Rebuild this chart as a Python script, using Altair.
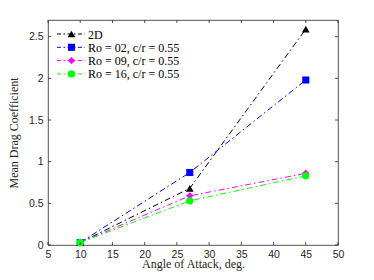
import altair as alt
import pandas as pd

angles = [10, 27, 45]
series_names = ["2D", "Ro = 02, c/r = 0.55", "Ro = 09, c/r = 0.55", "Ro = 16, c/r = 0.55"]
cd_2d = [0.03, 0.68, 2.59]
cd_ro02 = [0.03, 0.87, 1.98]
cd_ro09 = [0.03, 0.59, 0.86]
cd_ro16 = [0.03, 0.53, 0.83]
colors = ["#000000", "#0000ff", "#ff00ff", "#00ff00"]
marker_shapes = ["triangle-up", "square", "diamond", "circle"]
marker_sizes = [60, 50, 55, 55]
x_ticks = [5, 10, 15, 20, 25, 30, 35, 40, 45, 50]
y_ticks = [0, 0.5, 1, 1.5, 2, 2.5]

rows = []
for name, vals in zip(series_names, [cd_2d, cd_ro02, cd_ro09, cd_ro16]):
    for a, v in zip(angles, vals):
        rows.append({"series": name, "angle": a, "cd": v})
df = pd.DataFrame(rows)

W, H = 290, 225
DASH = [6, 3, 1.5, 3]
xs = alt.Scale(domain=[5, 50], nice=False, zero=False)
ys = alt.Scale(domain=[0, 2.7], nice=False)
cscale = alt.Scale(domain=series_names, range=colors)

axis_common = dict(domain=False, ticks=False, grid=False,
                   labelFont="Liberation Sans", labelFontSize=10.5, labelColor="#262626",
                   labelOverlap=False, labelFlush=False,
                   titleFont="Liberation Serif", titleFontSize=12, titleFontWeight="normal",
                   titleColor="#262626")
xaxis = alt.Axis(values=x_ticks, title="Angle of Attack, deg.", labelPadding=4,
                 titleY=22.5, titleBaseline="alphabetic", **axis_common)
yaxis = alt.Axis(values=y_ticks, title="Mean Drag Coefficient", format="~g",
                 labelPadding=5, titlePadding=8, **axis_common)
X = lambda f: alt.X(f, scale=xs, axis=xaxis)
Y = lambda f: alt.Y(f, scale=ys, axis=yaxis)

base = alt.Chart(df)
lines = base.mark_line(strokeWidth=1, strokeDash=DASH).encode(
    x=X("angle:Q"), y=Y("cd:Q"),
    color=alt.Color("series:N", scale=cscale, legend=None),
    detail="series:N",
    order="angle:Q",
)
point_layers = []
for name, col, shp, sz in zip(series_names, colors, marker_shapes, marker_sizes):
    point_layers.append(
        base.transform_filter(alt.datum.series == name)
        .mark_point(filled=True, opacity=1, shape=shp, size=sz, color=col)
        .encode(x=X("angle:Q"), y=Y("cd:Q"))
    )

# legend (inside the plot, top-left), drawn as marks
legend_layers = []
for i, (name, col, shp, sz) in enumerate(zip(series_names, colors, marker_shapes, marker_sizes)):
    ld = alt.Chart(pd.DataFrame({"label": [name]}))
    py = 14 + i * 13.3
    legend_layers.append(ld.mark_rule(strokeWidth=1, strokeDash=[4, 2.5, 1.5, 2.5], color=col).encode(
        x=alt.value(9), x2=alt.value(37), y=alt.value(py)))
    legend_layers.append(ld.mark_point(filled=True, opacity=1, shape=shp, size=sz, color=col).encode(
        x=alt.value(23.5), y=alt.value(py)))
    legend_layers.append(ld.mark_text(align="left", baseline="middle", font="Liberation Serif",
                                      fontSize=12, color="#000000").encode(
        x=alt.value(40), y=alt.value(py + 0.5), text="label:N"))

tick_len = 3
xt = pd.DataFrame({"t": x_ticks})
yt = pd.DataFrame({"t": y_ticks})
tick_style = dict(color="#262626", strokeWidth=0.8)
xb = alt.Chart(xt).mark_rule(**tick_style).encode(
    x=X("t:Q"), y=alt.value(H), y2=alt.value(H - tick_len))
xtp = alt.Chart(xt).mark_rule(**tick_style).encode(
    x=X("t:Q"), y=alt.value(0), y2=alt.value(tick_len))
yl = alt.Chart(yt).mark_rule(**tick_style).encode(
    y=Y("t:Q"), x=alt.value(0), x2=alt.value(tick_len))
yr = alt.Chart(yt).mark_rule(**tick_style).encode(
    y=Y("t:Q"), x=alt.value(W), x2=alt.value(W - tick_len))

chart = alt.layer(lines, *point_layers, *legend_layers, xb, xtp, yl, yr).properties(
    width=W, height=H,
    autosize=alt.AutoSizeParams(type="none"),
    padding={"left": 40, "top": 12, "right": 28, "bottom": 27},
    background="white",
).configure_view(stroke="#262626", strokeWidth=0.8)

chart.save("out.html", embed_options={"renderer": "svg", "actions": False})
